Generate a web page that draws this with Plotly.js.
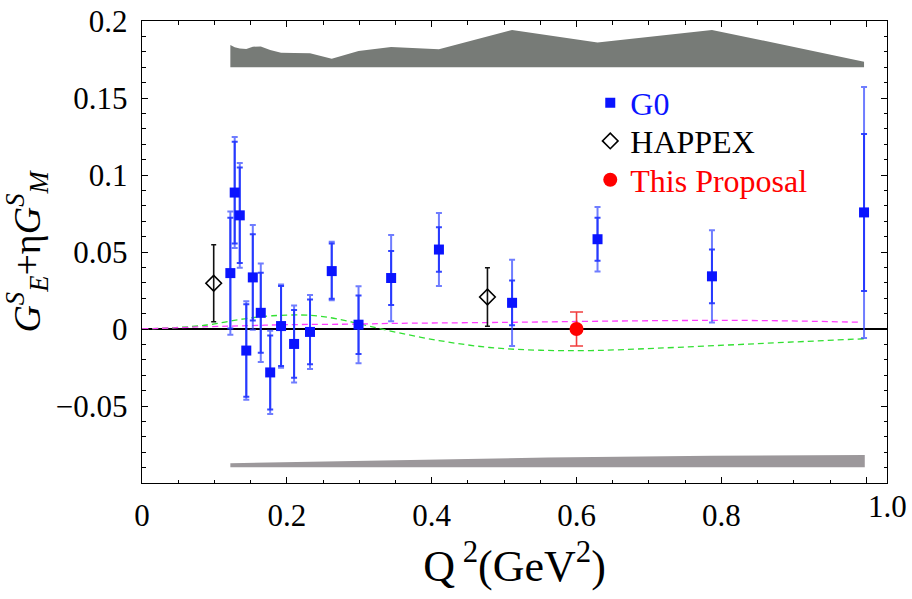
<!DOCTYPE html>
<html>
<head>
<meta charset="utf-8">
<script src="https://cdn.plot.ly/plotly-3.0.1.min.js"></script>
<style>html,body{margin:0;padding:0;background:#fff;}#chart{width:912px;height:599px;}</style>
</head>
<body>
<div id="chart"></div>
<script>
// ---- data ----
const G0_Q2   = [0.122, 0.128, 0.135, 0.144, 0.153, 0.164, 0.177, 0.192, 0.210, 0.232, 0.262, 0.299, 0.344, 0.410, 0.511, 0.629, 0.787, 0.997];
const G0_VAL  = [0.0363, 0.0886, 0.0738, -0.0140, 0.0335, 0.0105, -0.0282, 0.0019, -0.0097, -0.0019, 0.0376, 0.0028, 0.0331, 0.0516, 0.0170, 0.0583, 0.0342, 0.0757];
const G0_STAT = [0.036, 0.033, 0.031, 0.030, 0.028, 0.026, 0.024, 0.026, 0.022, 0.021, 0.018, 0.019, 0.0175, 0.0144, 0.0145, 0.014, 0.0175, 0.051];
const G0_TOT  = [0.040, 0.036, 0.034, 0.032, 0.034, 0.032, 0.027, 0.027, 0.025, 0.024, 0.019, 0.025, 0.028, 0.0237, 0.028, 0.021, 0.030, 0.0815];
const G0_SYS  = [0.0144, 0.0130, 0.0122, 0.0118, 0.0133, 0.0135, 0.0112, 0.0094, 0.0092, 0.0090, 0.0055, 0.0105, 0.0131, 0.0116, 0.0242, 0.0160, 0.0242, 0.0036];
const SYS_BASE = 0.17;

const HAPPEX_Q2  = [0.099, 0.477];
const HAPPEX_VAL = [0.0297, 0.0208];
const HAPPEX_ERR = [0.025, 0.019];

const PROP_Q2  = [0.600];
const PROP_VAL = [0.000];
const PROP_ERR = [0.011];

const LOW_Q2    = [0.122, 0.338, 0.560, 0.787, 0.998];
const LOW_WIDTH = [0.0026, 0.0047, 0.0064, 0.0075, 0.0080];
const LOW_BASE  = -0.0898;

const GREEN_Q2  = [0, 0.05, 0.09, 0.12, 0.15, 0.18, 0.22, 0.25, 0.29, 0.34, 0.41, 0.48, 0.55, 0.62, 0.71, 0.85, 0.998];
const GREEN_VAL = [0, 0.0010, 0.0026, 0.0050, 0.0072, 0.0086, 0.0091, 0.0081, 0.0045, -0.0010, -0.0075, -0.0120, -0.0138, -0.0140, -0.0125, -0.0095, -0.0063];

const MAG_Q2  = [0, 0.09, 0.15, 0.20, 0.30, 0.34, 0.50, 0.71, 0.85, 0.99];
const MAG_VAL = [0, 0.0015, 0.0022, 0.0028, 0.0032, 0.0036, 0.0043, 0.0054, 0.0055, 0.0044];

const SERIES_NAMES = ['G0', 'HAPPEX', 'This Proposal'];

const X_TICKS = [0, 0.2, 0.4, 0.6, 0.8, 1.0];
const X_TICKTEXT = ['0', '0.2', '0.4', '0.6', '0.8', ''];
const X_END_LABEL = '1.0';
const Y_TICKS = [-0.05, 0, 0.05, 0.1, 0.15, 0.2];
const Y_TICKTEXT = ['\u22120.05', '0', '0.05', '0.1', '0.15', '0.2'];

const X_RANGE = [0, 1.0287];
const Y_RANGE = [-0.1, 0.2];

// ---- build polygons ----
const sysX = G0_Q2.concat(G0_Q2.slice().reverse());
const sysY = G0_Q2.map((_, i) => SYS_BASE + G0_SYS[i]).concat(G0_Q2.map(() => SYS_BASE));
const lowX = LOW_Q2.concat(LOW_Q2.slice().reverse());
const lowY = LOW_Q2.map((_, i) => LOW_BASE + LOW_WIDTH[i]).concat(LOW_Q2.map(() => LOW_BASE));

const FONT = "Liberation Serif";
const BLUE = '#0a14ff';
function f(size, color) { return {family: FONT, size: size, color: color || '#000', weight: 'normal'}; }

const traces = [
  {x: sysX, y: sysY, type: 'scatter', mode: 'lines', fill: 'toself', fillcolor: '#777b77',
   line: {width: 0, color: '#777b77'}, showlegend: false, hoverinfo: 'skip'},
  {x: lowX, y: lowY, type: 'scatter', mode: 'lines', fill: 'toself', fillcolor: '#9c989b',
   line: {width: 0, color: '#9c989b'}, showlegend: false, hoverinfo: 'skip'},
  {x: GREEN_Q2, y: GREEN_VAL, type: 'scatter', mode: 'lines', line: {color: '#33e033', width: 1.3, dash: '6px,4px', shape: 'spline'}, showlegend: false},
  {x: MAG_Q2, y: MAG_VAL, type: 'scatter', mode: 'lines', line: {color: '#ff3cff', width: 1.3, dash: '6px,4px', shape: 'spline'}, showlegend: false},
  {x: G0_Q2, y: G0_VAL, type: 'scatter', mode: 'markers', marker: {size: 1, color: 'rgba(0,0,0,0)'},
   error_y: {type: 'data', array: G0_TOT, visible: true, color: 'rgba(50,70,255,0.7)', thickness: 2, width: 3},
   showlegend: false},
  {x: G0_Q2, y: G0_VAL, type: 'scatter', mode: 'markers', name: SERIES_NAMES[0], legend: 'legend',
   marker: {symbol: 'square', size: 10, color: BLUE},
   error_y: {type: 'data', array: G0_STAT, visible: true, color: 'rgba(30,50,255,0.9)', thickness: 2, width: 3}},
  {x: HAPPEX_Q2, y: HAPPEX_VAL, type: 'scatter', mode: 'markers', name: SERIES_NAMES[1], legend: 'legend2',
   marker: {symbol: 'diamond-open', size: 12, color: '#000', line: {width: 1.6, color: '#000'}},
   error_y: {type: 'data', array: HAPPEX_ERR, visible: true, color: '#111', thickness: 1.6, width: 2.5}},
  {x: PROP_Q2, y: PROP_VAL, type: 'scatter', mode: 'markers', name: SERIES_NAMES[2], legend: 'legend3',
   marker: {symbol: 'circle', size: 14, color: '#ff0000'},
   error_y: {type: 'data', array: PROP_ERR, visible: true, color: 'rgba(240,40,40,0.9)', thickness: 1.6, width: 6.5}}
];

function legendAt(y, color) {
  return {x: 0.6017, y: y, xanchor: 'left', yanchor: 'middle', bgcolor: 'rgba(0,0,0,0)',
          font: f(32, color), tracegroupgap: 0, itemclick: false};
}

const layout = {
  width: 912, height: 599,
  margin: {l: 142, r: 25, t: 21, b: 116},
  paper_bgcolor: '#fff', plot_bgcolor: '#fff',
  font: f(31),
  showlegend: true,
  legend:  legendAt(0.8225, '#0a14ff'),
  legend2: legendAt(0.740, '#000000'),
  legend3: legendAt(0.6558, '#ff0000'),
  xaxis: {
    range: X_RANGE, tickmode: 'array', tickvals: X_TICKS, ticktext: X_TICKTEXT,
    ticks: 'inside', ticklen: 6, tickwidth: 1, tickcolor: '#000',
    minor: {dtick: 0.05, tick0: 0, ticks: 'inside', ticklen: 3.5, tickwidth: 1, tickcolor: '#000'},
    showline: true, linecolor: '#000', linewidth: 1.3, mirror: 'ticks',
    showgrid: false, zeroline: false,
    tickfont: f(31), ticklabelstandoff: 4,
    title: {text: 'Q<sup> 2</sup>(GeV<sup>2</sup>)', font: f(44), standoff: 18}
  },
  yaxis: {
    range: Y_RANGE, tickmode: 'array', tickvals: Y_TICKS, ticktext: Y_TICKTEXT,
    ticks: 'inside', ticklen: 6, tickwidth: 1, tickcolor: '#000',
    minor: {dtick: 0.01, tick0: 0, ticks: 'inside', ticklen: 3.5, tickwidth: 1, tickcolor: '#000'},
    showline: true, linecolor: '#000', linewidth: 1.3, mirror: 'ticks',
    showgrid: false, zeroline: true, zerolinecolor: '#000', zerolinewidth: 1.2,
    tickfont: f(31), ticklabelstandoff: 7,
    title: {text: '<i>G</i><sup><i>S</i></sup><sub><i>E</i></sub>+\u03b7<i>G</i><sup><i>S</i></sup><sub><i>M</i></sub>',
            font: f(38), standoff: 12}
  },
  annotations: [
    {text: X_END_LABEL, xref: 'paper', yref: 'paper', x: 1, y: 0, xanchor: 'center', yanchor: 'top',
     yshift: -4, showarrow: false, font: f(31)}
  ]
};

Plotly.newPlot('chart', traces, layout, {displayModeBar: false, staticPlot: true});
</script>
</body>
</html>
